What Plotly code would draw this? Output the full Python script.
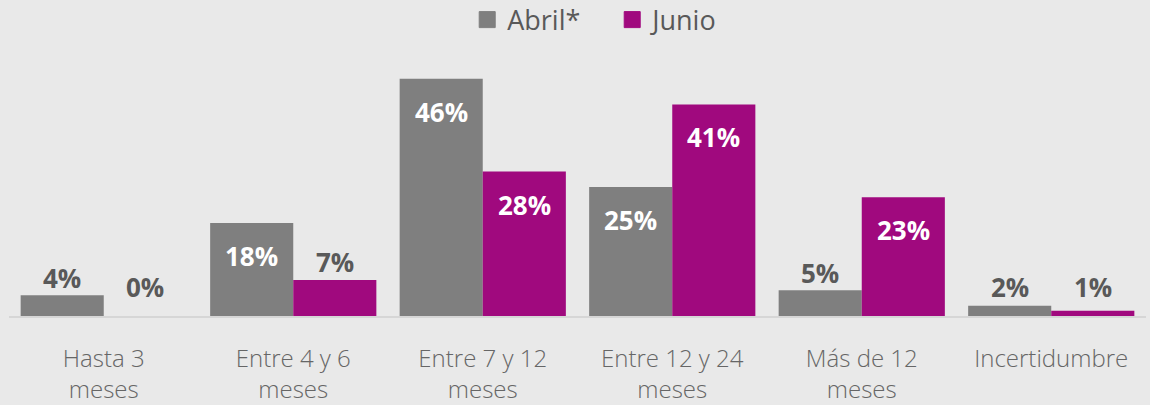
import plotly.graph_objects as go

categories = ["Hasta 3<br>meses", "Entre 4 y 6<br>meses", "Entre 7 y 12<br>meses",
              "Entre 12 y 24<br>meses", "Más de 12<br>meses", "Incertidumbre"]
abril = [4, 18, 46, 25, 5, 2]
junio = [0, 7, 28, 41, 23, 1]
series_names = ["Abril*", "Junio"]
colors = ["#7f7f7f", "#a0097e"]

fig = go.Figure()
for name, vals, col in zip(series_names, [abril, junio], colors):
    fig.add_trace(go.Bar(x=categories, y=vals, name=name, marker_color=col,
                         marker_line_width=0, offsetgroup=name, showlegend=False))
# legend entries with larger square symbols
for name, col in zip(series_names, colors):
    fig.add_trace(go.Scatter(x=[categories[0]], y=[None], mode="markers", name=name,
                             marker=dict(symbol="square", size=16, color=col,
                                         line=dict(width=1, color=col)),
                             showlegend=True, hoverinfo="skip"))

# data labels
annotations = []
for i, (name, vals) in enumerate(zip(series_names, [abril, junio])):
    xshift = -41.7 if i == 0 else 41.7
    for c, v in zip(categories, vals):
        if v >= 10:
            annotations.append(dict(x=c, y=v, yshift=-33, xshift=xshift, text=f"{v}%",
                                    showarrow=False, yanchor="middle",
                                    font=dict(family="Open Sans", size=26, color="white", weight="bold")))
        else:
            yl = max(v + 3.4, 5.6)
            annotations.append(dict(x=c, y=yl, xshift=xshift, text=f"{v}%",
                                    showarrow=False, yanchor="middle",
                                    font=dict(family="Open Sans", size=26, color="#595959", weight="bold")))

fig.update_layout(
    width=1150, height=405,
    paper_bgcolor="#e9e9e9", plot_bgcolor="#e9e9e9",
    margin=dict(l=9, r=4, t=58, b=89, autoexpand=False),
    barmode="group", bargap=0.123, bargroupgap=0,
    showlegend=True,
    legend=dict(orientation="h", x=0.403, xanchor="left", y=1.147, yanchor="middle",
                font=dict(family="Open Sans", size=27, color="#595959"),
                entrywidth=100, entrywidthmode="pixels",
                itemsizing="trace", bgcolor="rgba(0,0,0,0)", traceorder="normal"),
    annotations=annotations,
    font=dict(family="Open Sans", color="#595959"),
)
fig.update_xaxes(showline=True, linecolor="#d6d6d6", linewidth=2, ticks="",
                 ticklabelstandoff=20,
                 tickfont=dict(family="Open Sans", size=24, color="#666666", weight=300),
                 showgrid=False)
fig.update_yaxes(range=[0, 50], visible=False, showgrid=False, zeroline=False)

fig.write_html("out.html", config={"displayModeBar": False},
               post_script="document.body.style.margin='0';")
